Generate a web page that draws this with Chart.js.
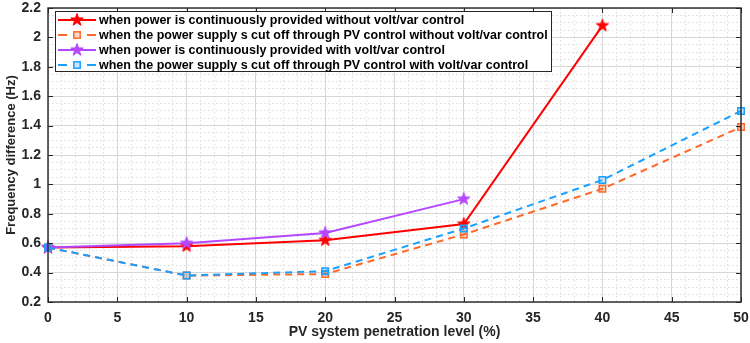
<!DOCTYPE html>
<html>
<head>
<meta charset="utf-8">
<script src="https://cdn.jsdelivr.net/npm/chart.js@4/dist/chart.umd.min.js"></script>
<style>
  html, body { margin: 0; padding: 0; background: #ffffff; }
  #wrap { width: 750px; height: 343px; }
</style>
</head>
<body>
<div id="wrap"><canvas id="c" width="750" height="343"></canvas></div>
<script>
// PV penetration level (%) for each measurement
const penetration = [0, 10, 20, 30, 40, 50];

// Frequency difference (Hz) per scenario
const contNoVoltVar = [0.57, 0.58, 0.62, 0.73, 2.08];
const cutNoVoltVar  = [0.57, 0.38, 0.39, 0.66, 0.97, 1.39];
const contVoltVar   = [0.57, 0.60, 0.67, 0.90];
const cutVoltVar    = [0.57, 0.38, 0.41, 0.70, 1.03, 1.50];

const seriesLabels = [
  'when power is continuously provided without volt/var control',
  'when the power supply s cut off through PV control without volt/var control',
  'when power is continuously provided with volt/var control',
  'when the power supply s cut off through PV control with volt/var control'
];

const xTickLabels = [0, 5, 10, 15, 20, 25, 30, 35, 40, 45, 50];
const yTickLabels = [0.2, 0.4, 0.6, 0.8, 1, 1.2, 1.4, 1.6, 1.8, 2, 2.2];

const FONT = '"Liberation Sans", Arial, Helvetica, sans-serif';
const AXIS_COLOR = '#262626';
const RED = '#ff0000';
const ORANGE = '#ff6929';
const PURPLE = '#b547ff';
const BLUE = '#1aa0ff';

// filled five-pointed star used as a point marker
function starMarker(color, outer) {
  const inner = outer * 0.4;
  const size = Math.ceil(outer * 2 + 3);
  const cv = document.createElement('canvas');
  cv.width = size; cv.height = size;
  const g = cv.getContext('2d');
  const c = size / 2;
  g.beginPath();
  for (let i = 0; i < 10; i++) {
    const r = i % 2 === 0 ? outer : inner;
    const a = -Math.PI / 2 + i * Math.PI / 5;
    const px = c + r * Math.cos(a), py = c + r * Math.sin(a);
    if (i === 0) g.moveTo(px, py); else g.lineTo(px, py);
  }
  g.closePath();
  g.fillStyle = color;
  g.fill();
  g.lineWidth = 1;
  g.strokeStyle = color;
  g.stroke();
  return cv;
}

const redStar = starMarker(RED, 6.5);
const purpleStar = starMarker(PURPLE, 6.5);

function toPoints(values) {
  return values.map((v, i) => ({ x: penetration[i], y: v }));
}

const datasets = [
  {
    label: seriesLabels[0], data: toPoints(contNoVoltVar),
    borderColor: RED, backgroundColor: RED, borderWidth: 2,
    pointStyle: redStar, pointRadius: 6, order: 4,
    legendMarker: 'star', legendStar: redStar
  },
  {
    label: seriesLabels[1], data: toPoints(cutNoVoltVar),
    borderColor: ORANGE, backgroundColor: 'rgba(255,105,41,0.25)', borderWidth: 2,
    borderDash: [7, 5], pointStyle: 'rect', pointRadius: 4.6, pointBorderWidth: 1.5,
    order: 3, legendMarker: 'square'
  },
  {
    label: seriesLabels[2], data: toPoints(contVoltVar),
    borderColor: PURPLE, backgroundColor: PURPLE, borderWidth: 2,
    pointStyle: purpleStar, pointRadius: 6, order: 2,
    legendMarker: 'star', legendStar: purpleStar
  },
  {
    label: seriesLabels[3], data: toPoints(cutVoltVar),
    borderColor: BLUE, backgroundColor: 'rgba(26,160,255,0.25)', borderWidth: 2,
    borderDash: [7, 5], pointStyle: 'rect', pointRadius: 4.6, pointBorderWidth: 1.5,
    order: 1, legendMarker: 'square'
  }
];
datasets.forEach(d => { d.tension = 0; d.clip = false; d.fill = false; });

const isMajorX = v => xTickLabels.includes(v);
const isMajorY = v => yTickLabels.some(t => Math.abs(t - v) < 1e-6);

// axes box with inward tick marks
const axesBox = {
  id: 'axesBox',
  afterDraw(chart) {
    const { ctx, chartArea: a, scales } = chart;
    ctx.save();
    ctx.strokeStyle = AXIS_COLOR;
    ctx.lineWidth = 1;
    const tl = 5;
    ctx.beginPath();
    xTickLabels.forEach(v => {
      const px = Math.round(scales.x.getPixelForValue(v)) + 0.5;
      ctx.moveTo(px, a.bottom); ctx.lineTo(px, a.bottom - tl);
      ctx.moveTo(px, a.top); ctx.lineTo(px, a.top + tl);
    });
    yTickLabels.forEach(v => {
      const py = Math.round(scales.y.getPixelForValue(v)) + 0.5;
      ctx.moveTo(a.left, py); ctx.lineTo(a.left + tl, py);
      ctx.moveTo(a.right, py); ctx.lineTo(a.right - tl, py);
    });
    ctx.stroke();
    ctx.lineWidth = 1.4;
    ctx.strokeRect(a.left, a.top, a.right - a.left, a.bottom - a.top);
    ctx.restore();
  }
};

// boxed legend in the upper left corner of the plot
const boxedLegend = {
  id: 'boxedLegend',
  afterDraw(chart) {
    const { ctx, chartArea: a } = chart;
    const x0 = a.left + 7, y0 = a.top + 3, w = 496, h = 60, row = 15;
    ctx.save();
    ctx.fillStyle = '#ffffff';
    ctx.fillRect(x0, y0, w, h);
    ctx.strokeStyle = AXIS_COLOR;
    ctx.lineWidth = 1;
    ctx.strokeRect(x0 + 0.5, y0 + 0.5, w, h);
    ctx.font = 'bold 12.5px ' + FONT;
    ctx.textBaseline = 'middle';
    ctx.textAlign = 'left';
    chart.data.datasets.forEach((d, i) => {
      const cy = y0 + 9 + i * row;
      const lx = x0 + 3, lw = 38, mx = lx + lw / 2;
      ctx.strokeStyle = d.borderColor;
      ctx.lineWidth = 2;
      ctx.beginPath();
      if (d.borderDash) {
        ctx.moveTo(lx, cy); ctx.lineTo(lx + 9, cy);
        ctx.moveTo(lx + lw - 9, cy); ctx.lineTo(lx + lw, cy);
      } else {
        ctx.moveTo(lx, cy); ctx.lineTo(lx + lw, cy);
      }
      ctx.stroke();
      if (d.legendMarker === 'star') {
        const s = d.legendStar;
        ctx.drawImage(s, mx - s.width / 2, cy - s.height / 2);
      } else {
        ctx.fillStyle = d.backgroundColor;
        ctx.lineWidth = 1.5;
        ctx.fillRect(mx - 3.2, cy - 3.2, 6.4, 6.4);
        ctx.strokeRect(mx - 3.2, cy - 3.2, 6.4, 6.4);
      }
      ctx.fillStyle = '#000000';
      ctx.fillText(d.label, lx + lw + 3, cy + 0.5);
    });
    ctx.restore();
  }
};

new Chart(document.getElementById('c'), {
  type: 'line',
  data: { datasets },
  plugins: [axesBox, boxedLegend],
  options: {
    responsive: false,
    animation: false,
    devicePixelRatio: 1,
    layout: { padding: { top: 7, right: 9, left: 0, bottom: 0 } },
    plugins: { legend: { display: false }, tooltip: { enabled: false } },
    scales: {
      x: {
        type: 'linear', min: 0, max: 50,
        afterFit(scale) {
          scale.height = 41;
          scale.paddingLeft = 0; scale.paddingRight = 0;
        },
        ticks: {
          stepSize: 1, autoSkip: false, maxRotation: 0, padding: 8,
          color: AXIS_COLOR, font: { family: FONT, size: 14, weight: 'bold' },
          callback: v => (isMajorX(v) ? String(v) : '')
        },
        grid: {
          drawTicks: false, lineWidth: 1,
          color: c => (c.tick && isMajorX(c.tick.value) ? '#d6d6d6' : '#dcdcdc')
        },
        border: {
          display: false,
          dash: c => (c.tick && isMajorX(c.tick.value) ? [] : [1.5, 2.5])
        },
        title: {
          display: true, text: 'PV system penetration level (%)',
          color: AXIS_COLOR, font: { family: FONT, size: 14, weight: 'bold' },
          padding: { top: 0, bottom: 2 }
        }
      },
      y: {
        type: 'linear', min: 0.2, max: 2.2,
        afterFit(scale) {
          scale.width = 48;
          scale.paddingTop = 0; scale.paddingBottom = 0;
        },
        ticks: {
          stepSize: 0.05, autoSkip: false, padding: 7,
          color: AXIS_COLOR, font: { family: FONT, size: 14, weight: 'bold' },
          callback: v => (isMajorY(v) ? String(Math.round(v * 10) / 10) : '')
        },
        grid: {
          drawTicks: false, lineWidth: 1,
          color: c => (c.tick && isMajorY(c.tick.value) ? '#d6d6d6' : '#dcdcdc')
        },
        border: {
          display: false,
          dash: c => (c.tick && isMajorY(c.tick.value) ? [] : [1.5, 2.5])
        },
        title: {
          display: true, text: 'Frequency difference (Hz)',
          color: AXIS_COLOR, font: { family: FONT, size: 13, weight: 'bold' },
          padding: { top: 4, bottom: 0 }
        }
      }
    }
  }
});
</script>
</body>
</html>
